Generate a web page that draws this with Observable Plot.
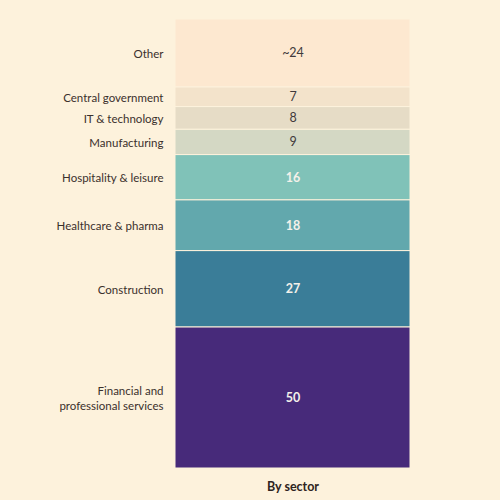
<!DOCTYPE html>
<html>
<head>
<meta charset="utf-8">
<script src="https://cdn.jsdelivr.net/npm/d3@7"></script>
<script src="https://cdn.jsdelivr.net/npm/@observablehq/plot@0.6"></script>
<style>
  html, body { margin: 0; padding: 0; background: #fdf2dc; }
  #chart svg { display: block; }
</style>
</head>
<body>
<div id="chart"></div>
<script>
const sectors = ["Financial and\nprofessional services", "Construction", "Healthcare & pharma", "Hospitality & leisure", "Manufacturing", "IT & technology", "Central government", "Other"];
const values = [50, 27, 18, 16, 9, 8, 7, 24];
const valueLabels = ["50", "27", "18", "16", "9", "8", "7", "~24"];
const colors = ["#472a7a", "#3a7d98", "#62a8ad", "#80c2b8", "#d4d8c4", "#e6dcc6", "#f3e3cb", "#fde8d0"];
const darkSegment = [true, true, true, true, false, false, false, false];
const group = "By sector";

const data = sectors.map((s, i) => ({sector: s, value: values[i], label: valueLabels[i], color: colors[i], dark: darkSegment[i], group}));

const chart = Plot.plot({
  width: 500,
  height: 500,
  marginTop: 19,
  marginBottom: 32,
  marginLeft: 175,
  marginRight: 90,
  style: {background: "#fdf2dc", fontFamily: "Lato, sans-serif"},
  x: {domain: [group], padding: 0, axis: null},
  y: {domain: [0, d3.sum(values)], axis: null},
  marks: [
    Plot.barY(data, Plot.stackY({x: "group", y: "value", fill: "color", stroke: "#fdf2dc", strokeWidth: 1})),
    Plot.text(data, Plot.stackY({y: "value", text: "sector", frameAnchor: "left", dx: -12, textAnchor: "end", fontSize: 11.5, fill: "#3b302c", lineHeight: 1.3})),
    Plot.text(data.filter(d => d.dark), Plot.stackY({x: "group", y: "value", text: "label", fontSize: 12.5, fontWeight: "bold", fill: "#f4f1ea"})),
    Plot.text(data, Plot.stackY({x: "group", y: "value", text: d => d.dark ? "" : d.label, fontSize: 12.5, fill: "#403a3c"})),
    Plot.text([group], {x: d => d, frameAnchor: "bottom", dy: 22, text: d => d, fontSize: 12.5, fontWeight: "bold", fill: "#2e2420"})
  ]
});
document.getElementById("chart").append(chart);
</script>
</body>
</html>
